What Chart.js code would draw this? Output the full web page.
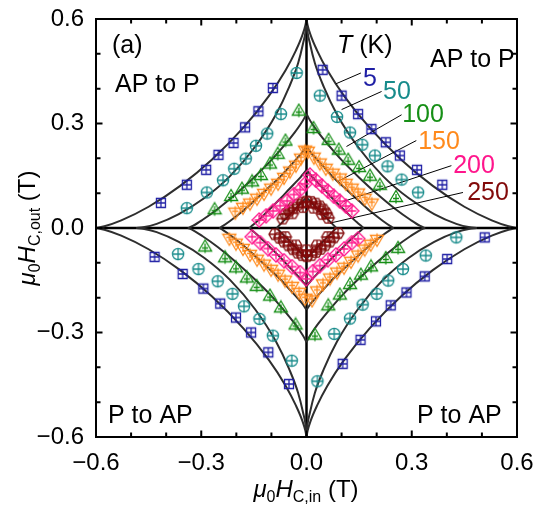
<!DOCTYPE html>
<html>
<head>
<meta charset="utf-8">
<script src="https://cdn.jsdelivr.net/npm/chart.js@4.4.0/dist/chart.umd.min.js"></script>
<style>
  html, body { margin: 0; padding: 0; background: #fff; }
  canvas { display: block; }
</style>
</head>
<body>
<canvas id="chart" width="536" height="507"></canvas>
<script>
const temps = ['5', '50', '100', '150', '200', '250'];
const tickLabelValues = [-0.6, -0.3, 0, 0.3, 0.6];

// switching fields, [mu0 H_C,in, mu0 H_C,out] in T
const pts5 = [
  [-0.415, 0.072], [-0.341, 0.124], [-0.286, 0.167], [-0.251, 0.210], [-0.208, 0.244], [-0.175, 0.289], [-0.137, 0.335], [-0.096, 0.402],
  [0.046, 0.454], [0.100, 0.380], [0.147, 0.327], [0.185, 0.284], [0.226, 0.246], [0.266, 0.208], [0.315, 0.167], [0.387, 0.124],
  [0.508, -0.027], [0.401, -0.089], [0.337, -0.139], [0.285, -0.185], [0.240, -0.222], [0.198, -0.268], [0.154, -0.321], [0.103, -0.390],
  [-0.433, -0.083], [-0.353, -0.132], [-0.294, -0.174], [-0.246, -0.217], [-0.201, -0.257], [-0.158, -0.300], [-0.109, -0.357], [-0.050, -0.448]
];
const pts50 = [
  [-0.341, 0.057], [-0.284, 0.102], [-0.238, 0.137], [-0.206, 0.170], [-0.173, 0.199], [-0.144, 0.236], [-0.112, 0.271], [-0.073, 0.327], [-0.028, 0.445],
  [0.038, 0.380], [0.087, 0.319], [0.124, 0.274], [0.159, 0.239], [0.195, 0.208], [0.231, 0.177], [0.271, 0.139], [0.318, 0.102],
  [0.427, -0.027], [0.340, -0.079], [0.275, -0.118], [0.233, -0.151], [0.200, -0.189], [0.160, -0.220], [0.124, -0.260], [0.079, -0.304], [0.031, -0.440],
  [-0.366, -0.075], [-0.308, -0.118], [-0.253, -0.153], [-0.211, -0.189], [-0.178, -0.225], [-0.134, -0.261], [-0.096, -0.309], [-0.042, -0.381]
];
const pts100 = [
  [-0.262, 0.054], [-0.215, 0.092], [-0.184, 0.113], [-0.155, 0.134], [-0.130, 0.152], [-0.104, 0.185], [-0.082, 0.213], [-0.060, 0.251], [-0.022, 0.337],
  [0.020, 0.287], [0.063, 0.253], [0.092, 0.225], [0.119, 0.196], [0.150, 0.175], [0.181, 0.150], [0.209, 0.124], [0.255, 0.089],
  [0.261, -0.057], [0.226, -0.086], [0.184, -0.110], [0.155, -0.134], [0.124, -0.161], [0.095, -0.191], [0.062, -0.222], [0.024, -0.306],
  [-0.289, -0.053], [-0.232, -0.084], [-0.201, -0.113], [-0.170, -0.142], [-0.142, -0.166], [-0.104, -0.194], [-0.073, -0.228], [-0.031, -0.277]
];
const pts150 = [
  [-0.203, 0.044], [-0.181, 0.058], [-0.161, 0.070], [-0.141, 0.084], [-0.121, 0.098], [-0.101, 0.113], [-0.081, 0.127], [-0.064, 0.144], [-0.047, 0.162], [-0.030, 0.179], [-0.016, 0.199], [-0.004, 0.222],
  [0.004, 0.219], [0.021, 0.202], [0.038, 0.185], [0.055, 0.170], [0.075, 0.156], [0.095, 0.142], [0.112, 0.127], [0.129, 0.113], [0.147, 0.099], [0.166, 0.084], [0.186, 0.070],
  [0.201, -0.034], [0.183, -0.048], [0.166, -0.062], [0.147, -0.079], [0.127, -0.097], [0.107, -0.114], [0.087, -0.128], [0.067, -0.145], [0.047, -0.162], [0.030, -0.182], [0.016, -0.208],
  [-0.220, -0.031], [-0.201, -0.045], [-0.181, -0.060], [-0.161, -0.077], [-0.141, -0.091], [-0.121, -0.105], [-0.101, -0.120], [-0.081, -0.134], [-0.061, -0.151], [-0.041, -0.169], [-0.021, -0.186], [-0.004, -0.203]
];
const pts200 = [
  [-0.135, 0.023], [-0.115, 0.035], [-0.095, 0.049], [-0.075, 0.064], [-0.055, 0.078], [-0.036, 0.096], [-0.018, 0.110], [-0.004, 0.127],
  [0.010, 0.152], [0.027, 0.137], [0.044, 0.121], [0.061, 0.106], [0.078, 0.091], [0.095, 0.077], [0.112, 0.063], [0.129, 0.049],
  [0.018, -0.125], [0.038, -0.108], [0.061, -0.091], [0.084, -0.077], [0.107, -0.060], [0.129, -0.042], [0.147, -0.031],
  [-0.155, -0.025], [-0.132, -0.042], [-0.110, -0.059], [-0.087, -0.077], [-0.064, -0.094], [-0.041, -0.111], [-0.018, -0.128], [-0.001, -0.146]
];
const pts250 = [
  [-0.068, 0.027], [-0.060, 0.040], [-0.050, 0.050], [-0.038, 0.059], [-0.025, 0.067], [-0.012, 0.073], [0.000, 0.076],
  [0.013, 0.075], [0.026, 0.070], [0.038, 0.062], [0.048, 0.053], [0.056, 0.042], [0.062, 0.029],
  [-0.040, 0.042], [-0.010, 0.060], [0.020, 0.058], [0.045, 0.040],
  [-0.090, -0.018], [-0.077, -0.028], [-0.064, -0.039], [-0.051, -0.050], [-0.038, -0.061], [-0.025, -0.071], [-0.012, -0.078], [0.001, -0.081],
  [0.014, -0.078], [0.027, -0.069], [0.040, -0.060], [0.053, -0.050], [0.066, -0.039], [0.078, -0.027], [0.090, -0.015],
  [-0.060, -0.026], [-0.030, -0.050], [0.000, -0.064], [0.030, -0.050], [0.060, -0.026]
];

// astroid fits, one array per quadrant: upper right, upper left, lower left, lower right
const fit5 = [
  [[0, 0.6], [0.003, 0.583], [0.012, 0.553], [0.03, 0.51], [0.06, 0.452], [0.108, 0.378], [0.18, 0.288], [0.27, 0.196], [0.36, 0.121], [0.45, 0.061], [0.528, 0.022], [0.576, 0.005], [0.6, 0]],
  [[-0.6, 0], [-0.576, 0.005], [-0.528, 0.022], [-0.45, 0.061], [-0.36, 0.121], [-0.27, 0.196], [-0.18, 0.288], [-0.108, 0.378], [-0.06, 0.452], [-0.03, 0.51], [-0.012, 0.553], [-0.003, 0.583], [0, 0.6]],
  [[-0.6, 0], [-0.576, -0.005], [-0.528, -0.022], [-0.45, -0.061], [-0.36, -0.121], [-0.27, -0.196], [-0.18, -0.288], [-0.108, -0.378], [-0.06, -0.452], [-0.03, -0.51], [-0.012, -0.553], [-0.003, -0.583], [0, -0.6]],
  [[0, -0.6], [0.003, -0.583], [0.012, -0.553], [0.03, -0.51], [0.06, -0.452], [0.108, -0.378], [0.18, -0.288], [0.27, -0.196], [0.36, -0.121], [0.45, -0.061], [0.528, -0.022], [0.576, -0.005], [0.6, 0]]
];
const fit50 = [
  [[0, 0.6], [0.002, 0.571], [0.01, 0.529], [0.024, 0.473], [0.049, 0.406], [0.087, 0.326], [0.146, 0.234], [0.218, 0.149], [0.291, 0.086], [0.364, 0.04], [0.427, 0.012], [0.466, 0.002], [0.485, 0]],
  [[-0.485, 0], [-0.466, 0.002], [-0.427, 0.012], [-0.364, 0.04], [-0.291, 0.086], [-0.218, 0.149], [-0.146, 0.234], [-0.087, 0.326], [-0.049, 0.406], [-0.024, 0.473], [-0.01, 0.529], [-0.002, 0.571], [0, 0.6]],
  [[-0.485, 0], [-0.466, -0.002], [-0.427, -0.012], [-0.364, -0.04], [-0.291, -0.086], [-0.218, -0.149], [-0.146, -0.234], [-0.087, -0.326], [-0.049, -0.406], [-0.024, -0.473], [-0.01, -0.529], [-0.002, -0.571], [0, -0.6]],
  [[0, -0.6], [0.002, -0.571], [0.01, -0.529], [0.024, -0.473], [0.049, -0.406], [0.087, -0.326], [0.146, -0.234], [0.218, -0.149], [0.291, -0.086], [0.364, -0.04], [0.427, -0.012], [0.466, -0.002], [0.485, 0]]
];
const fit100 = [
  [[0, 0.328], [0.002, 0.324], [0.007, 0.314], [0.017, 0.298], [0.034, 0.274], [0.061, 0.24], [0.101, 0.194], [0.152, 0.143], [0.203, 0.096], [0.254, 0.054], [0.297, 0.023], [0.324, 0.006], [0.338, 0]],
  [[-0.338, 0], [-0.324, 0.006], [-0.297, 0.023], [-0.254, 0.054], [-0.203, 0.096], [-0.152, 0.143], [-0.101, 0.194], [-0.061, 0.24], [-0.034, 0.274], [-0.017, 0.298], [-0.007, 0.314], [-0.002, 0.324], [0, 0.328]],
  [[-0.338, 0], [-0.324, -0.006], [-0.297, -0.023], [-0.254, -0.054], [-0.203, -0.096], [-0.152, -0.143], [-0.101, -0.194], [-0.061, -0.24], [-0.034, -0.274], [-0.017, -0.298], [-0.007, -0.314], [-0.002, -0.324], [0, -0.328]],
  [[0, -0.328], [0.002, -0.324], [0.007, -0.314], [0.017, -0.298], [0.034, -0.274], [0.061, -0.24], [0.101, -0.194], [0.152, -0.143], [0.203, -0.096], [0.254, -0.054], [0.297, -0.023], [0.324, -0.006], [0.338, 0]]
];
const fit150 = [
  [[0, 0.235], [0.012, 0.217], [0.025, 0.202], [0.045, 0.18], [0.074, 0.148], [0.112, 0.112], [0.149, 0.078], [0.186, 0.045], [0.218, 0.02], [0.238, 0.006], [0.248, 0]],
  [[-0.248, 0], [-0.238, 0.006], [-0.218, 0.02], [-0.186, 0.045], [-0.149, 0.078], [-0.112, 0.112], [-0.074, 0.148], [-0.045, 0.18], [-0.025, 0.202], [-0.012, 0.217], [0, 0.235]],
  [[-0.248, 0], [-0.238, -0.006], [-0.218, -0.02], [-0.186, -0.045], [-0.149, -0.078], [-0.112, -0.112], [-0.074, -0.148], [-0.045, -0.18], [-0.025, -0.202], [-0.012, -0.217], [0, -0.235]],
  [[0, -0.235], [0.012, -0.217], [0.025, -0.202], [0.045, -0.18], [0.074, -0.148], [0.112, -0.112], [0.149, -0.078], [0.186, -0.045], [0.218, -0.02], [0.238, -0.006], [0.248, 0]]
];
const fit200 = [
  [[0, 0.167], [0.008, 0.157], [0.016, 0.147], [0.029, 0.133], [0.049, 0.112], [0.073, 0.086], [0.098, 0.061], [0.122, 0.037], [0.143, 0.017], [0.157, 0.005], [0.163, 0]],
  [[-0.163, 0], [-0.157, 0.005], [-0.143, 0.017], [-0.122, 0.037], [-0.098, 0.061], [-0.073, 0.086], [-0.049, 0.112], [-0.029, 0.133], [-0.016, 0.147], [-0.008, 0.157], [0, 0.167]],
  [[-0.163, 0], [-0.157, -0.005], [-0.143, -0.017], [-0.122, -0.037], [-0.098, -0.061], [-0.073, -0.086], [-0.049, -0.112], [-0.029, -0.133], [-0.016, -0.147], [-0.008, -0.157], [0, -0.167]],
  [[0, -0.167], [0.008, -0.157], [0.016, -0.147], [0.029, -0.133], [0.049, -0.112], [0.073, -0.086], [0.098, -0.061], [0.122, -0.037], [0.143, -0.017], [0.157, -0.005], [0.163, 0]]
];
const fit250 = [
  [[0, 0.088], [0.042, 0.044], [0.085, 0]],
  [[-0.085, 0], [-0.042, 0.044], [0, 0.088]],
  [[-0.085, 0], [-0.042, -0.044], [0, -0.088]],
  [[0, -0.088], [0.042, -0.044], [0.085, 0]]
];

// leader lines from each temperature label to its curve
const leaderLines = [
  [[0.155, 0.445], [0.084, 0.414]],
  [[0.214, 0.392], [0.100, 0.340]],
  [[0.271, 0.325], [0.114, 0.234]],
  [[0.313, 0.251], [0.090, 0.134]],
  [[0.413, 0.179], [0.105, 0.076]],
  [[0.446, 0.102], [0.067, 0.014]]
];

const series = [pts5, pts50, pts100, pts150, pts200, pts250];
const fits = [fit5, fit50, fit100, fit150, fit200, fit250];
const colors = ['#1f1fa5', '#178b8b', '#168f16', '#ff8a1c', '#ff168c', '#820a0a'];
const shapes = ['square', 'circle', 'up', 'down', 'diamond', 'hexagon'];
const FONT = '"Liberation Sans", Arial, sans-serif';

function makeMarker(shape, color) {
  const c = document.createElement('canvas');
  c.width = 16; c.height = 16;
  const g = c.getContext('2d');
  g.strokeStyle = color;
  g.lineWidth = 1.3;
  g.beginPath();
  if (shape === 'square') {
    g.rect(3.5, 3.5, 9, 9);
    g.moveTo(8, 3.5); g.lineTo(8, 12.5); g.moveTo(3.5, 8); g.lineTo(12.5, 8);
  } else if (shape === 'circle') {
    g.arc(8, 8, 5.6, 0, 2 * Math.PI);
    g.moveTo(8, 2.4); g.lineTo(8, 13.6); g.moveTo(2.4, 8); g.lineTo(13.6, 8);
  } else if (shape === 'up') {
    g.moveTo(8, 1.5); g.lineTo(14.5, 12.5); g.lineTo(1.5, 12.5); g.closePath();
    g.moveTo(8, 5); g.lineTo(8, 14.5); g.moveTo(5, 9.5); g.lineTo(11, 9.5);
  } else if (shape === 'down') {
    g.moveTo(1.5, 3.5); g.lineTo(14.5, 3.5); g.lineTo(8, 14.5); g.closePath();
    g.moveTo(8, 1.5); g.lineTo(8, 11); g.moveTo(5, 6.5); g.lineTo(11, 6.5);
  } else if (shape === 'diamond') {
    g.moveTo(8, 1); g.lineTo(15, 8); g.lineTo(8, 15); g.lineTo(1, 8); g.closePath();
    g.moveTo(8, 3.5); g.lineTo(8, 12.5); g.moveTo(3.5, 8); g.lineTo(12.5, 8);
  } else {
    for (let k = 0; k < 6; k++) {
      const t = Math.PI / 3 * k;
      const px = 8 + 6 * Math.cos(t), py = 8 + 6 * Math.sin(t);
      if (k) g.lineTo(px, py); else g.moveTo(px, py);
    }
    g.closePath();
    g.moveTo(8, 3); g.lineTo(8, 13); g.moveTo(3, 8); g.lineTo(13, 8);
  }
  g.stroke();
  return c;
}

const toXY = arr => arr.map(p => ({ x: p[0], y: p[1] }));
const isLabelled = v => tickLabelValues.some(t => Math.abs(t - v) < 1e-6);
const tickText = v => isLabelled(v) ? (v < -1e-6 ? '\u2212' : '') + Math.abs(v).toFixed(1) : '';

const datasets = [];
fits.forEach((quads, i) => {
  quads.forEach(q => datasets.push({
    label: temps[i] + ' K fit', data: toXY(q), showLine: true,
    borderColor: '#2e2e2e', borderWidth: 2, pointRadius: 0,
    cubicInterpolationMode: 'monotone', order: 3
  }));
});
leaderLines.forEach(l => datasets.push({
  label: 'leader', data: toXY(l), showLine: true,
  borderColor: '#000', borderWidth: 1, pointRadius: 0, order: 2
}));
series.forEach((s, i) => datasets.push({
  label: temps[i] + ' K', data: toXY(s), showLine: false,
  pointStyle: makeMarker(shapes[i], colors[i]), pointRadius: 6, order: 1
}));

function richText(ctx, parts, x, y, align) {
  let w = 0;
  parts.forEach(p => { ctx.font = (p[2] ? 'italic ' : '') + p[1] + 'px ' + FONT; w += ctx.measureText(p[0]).width; });
  let cx = align === 'center' ? x - w / 2 : x;
  parts.forEach(p => {
    ctx.font = (p[2] ? 'italic ' : '') + p[1] + 'px ' + FONT;
    ctx.fillText(p[0], cx, y + p[3]);
    cx += ctx.measureText(p[0]).width;
  });
}

const notes = [
  { parts: [['(a)', 25, false, 0]], x: 112, y: 53 },
  { parts: [['AP to P', 25, false, 0]], x: 115, y: 92 },
  { parts: [['T', 25, true, 0], [' (K)', 25, false, 0]], x: 337, y: 53 },
  { parts: [['AP to P', 25, false, 0]], x: 430, y: 67 },
  { parts: [['P to AP', 25, false, 0]], x: 108, y: 423 },
  { parts: [['P to AP', 25, false, 0]], x: 417, y: 423 }
];
const tempLabelPos = [[370, 86], [397, 99], [423, 122], [439, 149], [474, 173], [488, 200]];

const decor = {
  id: 'decor',
  beforeDatasetsDraw(chart) {
    const { ctx, chartArea: a, scales: { x, y } } = chart;
    ctx.save();
    ctx.strokeStyle = '#000';
    ctx.lineWidth = 2.5;
    const x0 = x.getPixelForValue(0), y0 = y.getPixelForValue(0);
    ctx.beginPath();
    ctx.moveTo(x0, a.top); ctx.lineTo(x0, a.bottom);
    ctx.moveTo(a.left, y0); ctx.lineTo(a.right, y0);
    ctx.stroke();
    ctx.restore();
  },
  afterDatasetsDraw(chart) {
    const { ctx, chartArea: a, scales: { x, y } } = chart;
    ctx.save();
    ctx.strokeStyle = '#000';
    ctx.lineWidth = 2;
    ctx.beginPath();
    x.ticks.forEach(t => {
      const p = x.getPixelForValue(t.value), len = isLabelled(t.value) ? 6.5 : 4.5;
      ctx.moveTo(p, a.bottom); ctx.lineTo(p, a.bottom - len);
      ctx.moveTo(p, a.top); ctx.lineTo(p, a.top + len);
    });
    y.ticks.forEach(t => {
      const p = y.getPixelForValue(t.value), len = isLabelled(t.value) ? 6.5 : 4.5;
      ctx.moveTo(a.left, p); ctx.lineTo(a.left + len, p);
      ctx.moveTo(a.right, p); ctx.lineTo(a.right - len, p);
    });
    ctx.stroke();
    ctx.strokeRect(a.left, a.top, a.right - a.left, a.bottom - a.top);
    ctx.restore();
  },
  afterDraw(chart) {
    const { ctx } = chart;
    ctx.save();
    ctx.textBaseline = 'alphabetic';
    ctx.fillStyle = '#000';
    notes.forEach(n => richText(ctx, n.parts, n.x, n.y, 'left'));
    temps.forEach((t, i) => {
      ctx.fillStyle = colors[i];
      richText(ctx, [[t, 25, false, 0]], tempLabelPos[i][0], tempLabelPos[i][1], 'center');
    });
    ctx.fillStyle = '#000';
    richText(ctx, [['\u03bc', 24, true, 0], ['0', 16, false, 5], ['H', 24, true, 0], ['C,in', 16, false, 5], [' (T)', 24, false, 0]], 306, 497, 'center');
    ctx.translate(35, 228);
    ctx.rotate(-Math.PI / 2);
    richText(ctx, [['\u03bc', 24, true, 0], ['0', 16, false, 5], ['H', 24, true, 0], ['C,out', 16, false, 5], [' (T)', 24, false, 0]], 0, 0, 'center');
    ctx.restore();
  }
};

const tickFont = { family: FONT, size: 24 };
new Chart(document.getElementById('chart'), {
  type: 'scatter',
  data: { datasets },
  options: {
    responsive: false,
    animation: false,
    layout: { padding: { top: 19, right: 19, left: 0, bottom: 0 } },
    plugins: { legend: { display: false }, tooltip: { enabled: false } },
    scales: {
      x: {
        type: 'linear', min: -0.6, max: 0.6,
        grid: { display: false, drawTicks: true, tickLength: 12 },
        border: { display: false },
        ticks: { stepSize: 0.1, autoSkip: false, maxRotation: 0, padding: 0, color: '#000', font: tickFont, callback: tickText },
        afterFit: s => { s.height = 70; }
      },
      y: {
        type: 'linear', min: -0.6, max: 0.6,
        grid: { display: false, drawTicks: true, tickLength: 12 },
        border: { display: false },
        ticks: { stepSize: 0.1, autoSkip: false, padding: 0, color: '#000', font: tickFont, callback: tickText },
        afterFit: s => { s.width = 96; }
      }
    }
  },
  plugins: [decor]
});
</script>
</body>
</html>
